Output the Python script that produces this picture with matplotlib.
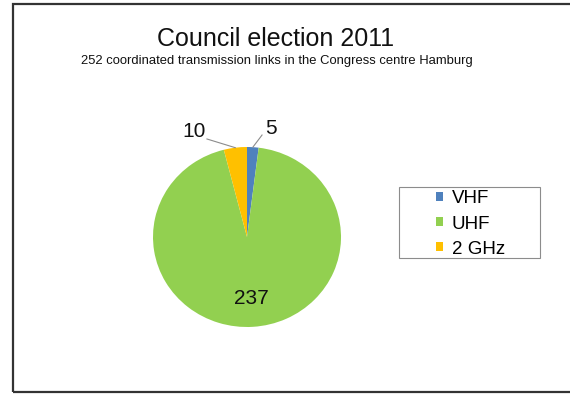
import numpy as np
import matplotlib
matplotlib.use("Agg")
import matplotlib.pyplot as plt
from matplotlib.patches import Rectangle

plt.rcParams['font.family'] = ['Liberation Sans', 'DejaVu Sans']

bands = ['VHF', 'UHF', '2 GHz']
links = [5, 237, 10]
colours = ['#4F81BD', '#92D050', '#FFC000']

W, H = 570, 394
fig = plt.figure(figsize=(W / 100, H / 100), dpi=100)

def fx(px):
    return px / W

def fy(py):
    return 1 - py / H

# outer frame of the chart area (right side runs off the picture)
fig.patches.append(Rectangle((fx(13), fy(392)), 1, (392 - 4) / H,
                             transform=fig.transFigure, fill=False,
                             edgecolor='#333333', linewidth=1.6))

fig.text(fx(276), fy(39), 'Council election 2011', ha='center', va='center',
         fontsize=18, color='#111111')
fig.text(fx(277), fy(61), '252 coordinated transmission links in the Congress centre Hamburg',
         ha='center', va='center', fontsize=9.4, color='#111111')

# pie axes: centre (247, 237), slightly wider than tall like the source
cx, cy, rx, ry = 247, 237, 94, 90
ax = fig.add_axes([fx(cx - rx), fy(cy + ry), 2 * rx / W, 2 * ry / H])
wedges, _ = ax.pie(links, colors=colours, startangle=90, counterclock=False,
                   radius=1, wedgeprops=dict(linewidth=0))
ax.set_aspect('auto')
ax.set_xlim(-1, 1)
ax.set_ylim(-1, 1)
ax.axis('off')

# outside labels with leader lines for the thin slices
outside = {0: ((0.255, 1.20), (0.16, 1.133)),
           2: ((-0.564, 1.167), (-0.426, 1.089))}
for i, w in enumerate(wedges):
    mid = np.deg2rad((w.theta1 + w.theta2) / 2)
    if i in outside:
        (tx, ty), (lx, ly) = outside[i]
        ax.plot([np.cos(mid), lx], [np.sin(mid), ly], color='#8c8c8c',
                lw=0.8, clip_on=False)
        ax.text(tx, ty, str(links[i]), ha='center', va='center',
                fontsize=15, color='#111111', clip_on=False)
    else:
        ax.text(0.68 * np.cos(mid), 0.68 * np.sin(mid), str(links[i]),
                ha='center', va='center', fontsize=15, color='#111111')

# legend box
fig.patches.append(Rectangle((fx(399), fy(258)), (540 - 399) / W, (258 - 187) / H,
                             transform=fig.transFigure, fill=False,
                             edgecolor='#8c8c8c', linewidth=0.8))
fig.legend(wedges, bands, loc='center left', bbox_to_anchor=(fx(436), fy(224)),
           fontsize=13.5, frameon=False, handlelength=0.38, handleheight=0.38,
           handletextpad=0.46, labelspacing=0.43, borderpad=0, borderaxespad=0)

fig.savefig('out.png', dpi=100)
